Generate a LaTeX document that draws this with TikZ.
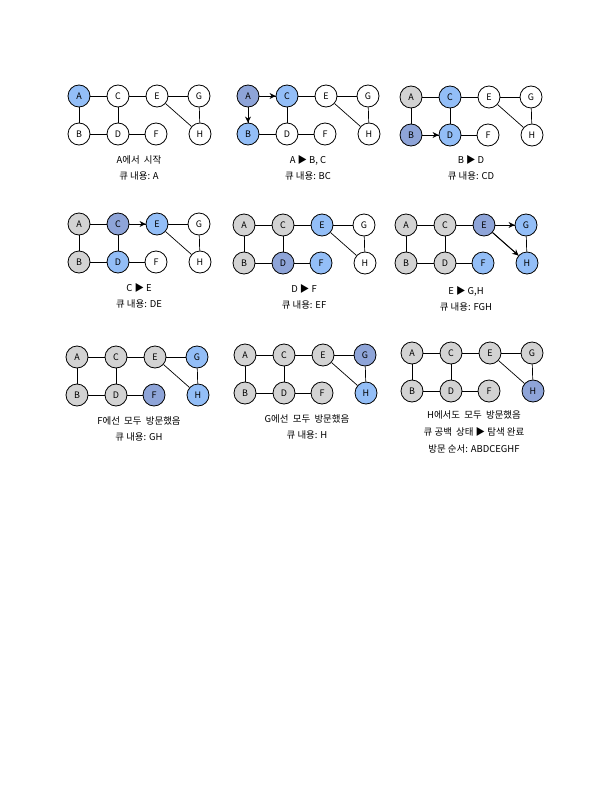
\documentclass[tikz,border=0pt]{standalone}
\usepackage{fontspec}
\setmainfont{Noto Sans CJK KR}
\usetikzlibrary{arrows.meta}

\definecolor{quecol}{HTML}{93BEF7}
\definecolor{curcol}{HTML}{8EA4D8}
\definecolor{seencol}{HTML}{D3D3D3}

\tikzset{
  vtx/.style={circle, draw=black, line width=0.8pt, minimum size=22bp, inner sep=0pt, font=\fontsize{9}{10}\selectfont, fill=white},
  que/.style={fill=quecol},
  cur/.style={fill=curcol},
  seen/.style={fill=seencol},
  unv/.style={},
  link/.style={line width=0.7pt},
  arr/.style={line width=0.9pt, -{Stealth[length=6bp,width=6bp]}},
  lbl/.style={font=\fontsize{9.5}{11}\selectfont, inner sep=0pt}
}

% one copy of the graph: prefix, then the style of A B C D E F G H
\newcommand{\bfsgraph}[9]{%
  \node[vtx,#2] (#1A) at (0,0) {A};
  \node[vtx,#4] (#1C) at (39,0) {C};
  \node[vtx,#6] (#1E) at (78,0) {E};
  \node[vtx,#8] (#1G) at (120,0) {G};
  \node[vtx,#3] (#1B) at (0,38) {B};
  \node[vtx,#5] (#1D) at (39,38) {D};
  \node[vtx,#7] (#1F) at (77,38) {F};
  \node[vtx,#9] (#1H) at (121,38) {H};
  \draw[link] (#1A) -- (#1C);
  \draw[link] (#1C) -- (#1E);
  \draw[link] (#1E) -- (#1G);
  \draw[link] (#1A) -- (#1B);
  \draw[link] (#1C) -- (#1D);
  \draw[link] (#1B) -- (#1D);
  \draw[link] (#1D) -- (#1F);
  \draw[link] (#1E) -- (#1H);
  \draw[link] (#1G) -- (#1H);
}

\begin{document}
\begin{tikzpicture}[x=1bp, y=-1bp]
  \useasboundingbox (0,0) rectangle (612,792);

  % 1: 시작
  \begin{scope}[shift={(79,96)}]
    \bfsgraph{p1}{que}{unv}{unv}{unv}{unv}{unv}{unv}{unv}
    \node[lbl] (t1a) at (60,64) {A에서 \ 시작};
    \node[lbl] (t1b) at (60,80) {큐 내용: A};
  \end{scope}

  % 2: A 방문
  \begin{scope}[shift={(248,96)}]
    \bfsgraph{p2}{cur}{que}{que}{unv}{unv}{unv}{unv}{unv}
    \draw[arr] (p2A) -- (p2C);
    \draw[arr] (p2A) -- (p2B);
    \node[lbl] (t2a) at (60,64) {A ▶ B, C};
    \node[lbl] (t2b) at (60,80) {큐 내용: BC};
  \end{scope}

  % 3: B 방문
  \begin{scope}[shift={(411,97)}]
    \bfsgraph{p3}{seen}{cur}{que}{que}{unv}{unv}{unv}{unv}
    \draw[arr] (p3B) -- (p3D);
    \node[lbl] (t3a) at (60,63) {B ▶ D};
    \node[lbl] (t3b) at (60,79) {큐 내용: CD};
  \end{scope}

  % 4: C 방문
  \begin{scope}[shift={(79,224)}]
    \bfsgraph{p4}{seen}{seen}{cur}{que}{que}{unv}{unv}{unv}
    \draw[arr] (p4C) -- (p4E);
    \node[lbl] (t4a) at (60,64) {C ▶ E};
    \node[lbl] (t4b) at (60,80) {큐 내용: DE};
  \end{scope}

  % 5: D 방문
  \begin{scope}[shift={(244,225)}]
    \bfsgraph{p5}{seen}{seen}{seen}{cur}{que}{que}{unv}{unv}
    \node[lbl] (t5a) at (60,64) {D ▶ F};
    \node[lbl] (t5b) at (60,80) {큐 내용: EF};
  \end{scope}

  % 6: E 방문
  \begin{scope}[shift={(406,225)}]
    \bfsgraph{p6}{seen}{seen}{seen}{seen}{cur}{que}{que}{que}
    \draw[arr] (p6E) -- (p6G);
    \draw[arr] (p6E) -- (p6H);
    \node[lbl] (t6a) at (60,66) {E ▶ G,H};
    \node[lbl] (t6b) at (60,82) {큐 내용: FGH};
  \end{scope}

  % 7: F
  \begin{scope}[shift={(77,357)}]
    \bfsgraph{p7}{seen}{seen}{seen}{seen}{seen}{cur}{que}{que}
    \node[lbl] (t7a) at (62,64) {F에선 \ 모두 \ 방문했음};
    \node[lbl] (t7b) at (62,80) {큐 내용: GH};
  \end{scope}

  % 8: G
  \begin{scope}[shift={(245,355)}]
    \bfsgraph{p8}{seen}{seen}{seen}{seen}{seen}{seen}{cur}{que}
    \node[lbl] (t8a) at (62,64) {G에선 \ 모두 \ 방문했음};
    \node[lbl] (t8b) at (62,80) {큐 내용: H};
  \end{scope}

  % 9: H, 끝
  \begin{scope}[shift={(412,353)}]
    \bfsgraph{p9}{seen}{seen}{seen}{seen}{seen}{seen}{seen}{cur}
    \node[lbl] (t9a) at (62,62) {H에서도 \ 모두 \ 방문했음};
    \node[lbl] (t9b) at (62,79) {큐 공백 \ 상태 ▶ 탐색 완료};
    \node[lbl] (t9c) at (62,96) {방문 순서: ABDCEGHF};
  \end{scope}
\end{tikzpicture}
\end{document}
